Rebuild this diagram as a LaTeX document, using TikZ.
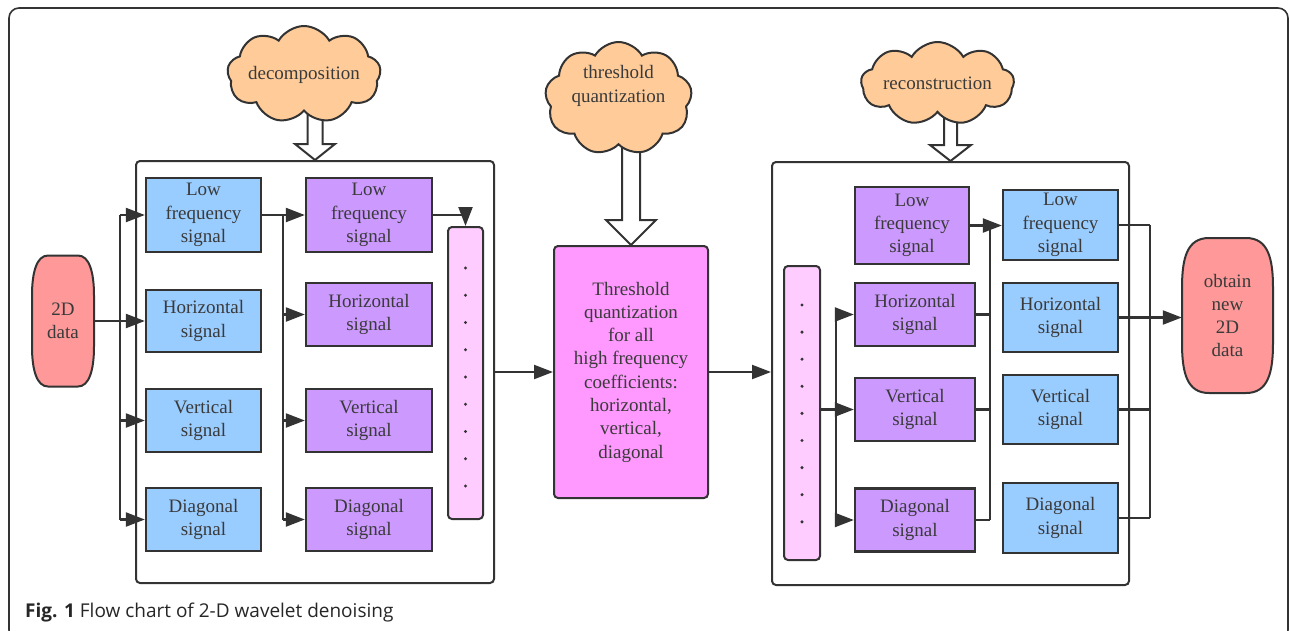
\documentclass[tikz,border=0pt]{standalone}
\usepackage{fontspec}
\setmainfont{Liberation Serif}
\newfontfamily\capfont{Open Sans}
\usetikzlibrary{arrows.meta,shapes.symbols,calc,backgrounds}
\definecolor{ln}{HTML}{333333}
\definecolor{tx}{HTML}{3A3A3A}
\definecolor{blu}{HTML}{99CCFF}
\definecolor{pur}{HTML}{CC99FF}
\definecolor{pdot}{HTML}{FFCCFF}
\definecolor{thrc}{HTML}{FF99FF}
\definecolor{peach}{HTML}{FFCC99}
\definecolor{sal}{HTML}{FF9999}
% capsule-like terminal shape: cx, cy, half width, half height, half flat, curve height
\newcommand\podpath[6]{%
  \filldraw[podst] (#1-#5,#2-#4) -- (#1+#5,#2-#4)
    .. controls (#1+#3-5,#2-#4) and (#1+#3,#2-#4+#6*0.4) .. (#1+#3,#2-#4+#6)
    -- (#1+#3,#2+#4-#6)
    .. controls (#1+#3,#2+#4-#6*0.4) and (#1+#3-5,#2+#4) .. (#1+#5,#2+#4)
    -- (#1-#5,#2+#4)
    .. controls (#1-#3+5,#2+#4) and (#1-#3,#2+#4-#6*0.4) .. (#1-#3,#2+#4-#6)
    -- (#1-#3,#2-#4+#6)
    .. controls (#1-#3,#2-#4+#6*0.4) and (#1-#3+5,#2-#4) .. (#1-#5,#2-#4) -- cycle;}
% hollow block arrow from a cloud to a box: cloud, box, half shaft, half head, head length
\newcommand\hollowarr[5]{%
  \filldraw[hol] let \p1=(#2.north), \p2=(#1.south) in
    (\x1+#3pt,\y2+6pt) -- (\x1+#3pt,\y1+#5pt) -- (\x1+#4pt,\y1+#5pt) -- (\x1,\y1)
    -- (\x1-#4pt,\y1+#5pt) -- (\x1-#3pt,\y1+#5pt) -- (\x1-#3pt,\y2+6pt);}
\begin{document}
\begin{tikzpicture}[x=1pt,y=-1pt,
  txt/.style={text=tx, align=center, font=\fontsize{19}{23.3}\selectfont, inner sep=0pt},
  sig/.style={txt, draw=ln, line width=2.3pt},
  bluebox/.style={sig, fill=blu},
  purbox/.style={sig, fill=pur},
  bigbox/.style={draw=ln, line width=2pt, rounded corners=4pt, inner sep=0pt},
  dotcol/.style={draw=ln, line width=2pt, fill=pdot, rounded corners=4pt, inner sep=0pt},
  thrbox/.style={txt, draw=ln, line width=2pt, fill=thrc, rounded corners=4pt},
  cloudst/.style={cloud, cloud puffs=9, cloud puff arc=120, cloud ignores aspect,
    draw=ln, line width=2pt, fill=peach, inner sep=0pt, txt},
  podst/.style={draw=ln, line width=2pt, fill=sal},
  hol/.style={draw=ln, line width=2pt, fill=white, line join=miter},
  conn/.style={draw=ln, line width=2.2pt},
  arr/.style={conn, -{Triangle[length=19pt,width=14pt]}},
  dotst/.style={fill=ln}
]
\clip (0,0) rectangle (1290,630);
% outer frame
\draw[draw=ln, line width=1.6pt, rounded corners=10pt] (9,8) rectangle (1288,640);

% ---------- left block ----------
\podpath{63}{321}{31}{65.5}{15}{40}
\node[txt, minimum width=62pt, minimum height=131pt] (data) at (63,321) {2D\\data};

\node[bigbox, minimum width=358pt, minimum height=422pt] (bigL) at (315,372) {};

\node[bluebox, minimum width=115pt, minimum height=74pt] (b1) at (203.5,215) {Low\\frequency\\signal};
\node[bluebox, minimum width=115pt, minimum height=62pt] (b2) at (203.5,321) {Horizontal\\signal};
\node[bluebox, minimum width=115pt, minimum height=63pt] (b3) at (203.5,420.5) {Vertical\\signal};
\node[bluebox, minimum width=115pt, minimum height=63pt] (b4) at (203.5,519.5) {Diagonal\\signal};

\node[purbox, minimum width=126pt, minimum height=74pt] (p1) at (369,215) {Low\\frequency\\signal};
\node[purbox, minimum width=126pt, minimum height=63pt] (p2) at (369,314.5) {Horizontal\\signal};
\node[purbox, minimum width=126pt, minimum height=63pt] (p3) at (369,420.5) {Vertical\\signal};
\node[purbox, minimum width=126pt, minimum height=63pt] (p4) at (369,519.5) {Diagonal\\signal};

\node[dotcol, minimum width=35pt, minimum height=292pt] (dotsL) at (465.5,373) {};
\foreach \i in {0,...,8} \fill[dotst] (465.5,268+27.25*\i) circle (1.7pt);

% ---------- centre ----------
\node[thrbox, minimum width=154pt, minimum height=252pt] (thr) at (631,372)
  {Threshold\\quantization\\for all\\high frequency\\coefficients:\\horizontal,\\vertical,\\diagonal};

% ---------- right block ----------
\node[bigbox, minimum width=357pt, minimum height=423pt] (bigR) at (950.5,373.5) {};

\node[dotcol, minimum width=36pt, minimum height=294pt] (dotsR) at (802,413) {};
\foreach \i in {0,...,8} \fill[dotst] (802,305+27.1*\i) circle (1.7pt);

\node[purbox, minimum width=114pt, minimum height=77pt] (q1) at (912,225.5) {Low\\frequency\\signal};
\node[purbox, minimum width=120pt, minimum height=63pt] (q2) at (915,314.5) {Horizontal\\signal};
\node[purbox, minimum width=120pt, minimum height=63pt] (q3) at (915,409.5) {Vertical\\signal};
\node[purbox, minimum width=120pt, minimum height=63pt] (q4) at (915,520) {Diagonal\\signal};

\node[bluebox, minimum width=115pt, minimum height=70pt] (b5) at (1060.5,225) {Low\\frequency\\signal};
\node[bluebox, minimum width=115pt, minimum height=69pt] (b6) at (1060.5,317.5) {Horizontal\\signal};
\node[bluebox, minimum width=115pt, minimum height=69pt] (b7) at (1060.5,409.5) {Vertical\\signal};
\node[bluebox, minimum width=115pt, minimum height=70pt] (b8) at (1060.5,518) {Diagonal\\signal};

\podpath{1227.5}{315.5}{45.5}{77.5}{18.5}{50}
\node[txt, minimum width=91pt, minimum height=155pt] (obtain) at (1227.5,315.5) {obtain\\new\\2D\\data};

% ---------- clouds ----------
\node[cloudst, minimum width=152pt, minimum height=97pt] (cdec) at (304,74.5) {decomposition};
\node[cloudst, minimum width=147pt, minimum height=113pt] (cthr) at (618.5,98.5) {};
\node[txt] (cthrt) at (618.5,86) {threshold\\quantization};
\node[cloudst, minimum width=153pt, minimum height=83pt] (crec) at (937.5,83.5) {reconstruction};

\begin{pgfonlayer}{background}
\hollowarr{cdec}{bigL}{7.5}{20}{16}
\hollowarr{cthr}{thr}{9}{25}{25}
\hollowarr{crec}{bigR}{6.5}{20.5}{16}
\end{pgfonlayer}

% ---------- connectors ----------
\coordinate (bl) at (120,0);
\coordinate (bm) at (283,0);
\coordinate (br) at (836,0);
\coordinate (bq) at (990,0);
\coordinate (bb) at (1150,0);

\draw[conn] (bl |- b1.west) -- (bl |- b4.west);
\draw[arr] (bl |- b1.west) -- (b1.west);
\draw[arr] (data.east) -- (b2.west);
\draw[arr] (bl |- b3.west) -- (b3.west);
\draw[arr] (bl |- b4.west) -- (b4.west);

\draw[conn] (bm |- b1.east) -- (bm |- p4.west);
\draw[arr] (b1.east) -- (p1.west);
\draw[arr] (bm |- p2.west) -- (p2.west);
\draw[arr] (bm |- p3.west) -- (p3.west);
\draw[arr] (bm |- p4.west) -- (p4.west);

\draw[arr] (p1.east) -| (dotsL.north);
\draw[arr] (bigL.east) -- (bigL.east -| thr.west);
\draw[arr] (thr.east) -- (thr.east -| bigR.west);

\draw[conn] (dotsR.east |- q3.west) -- (br |- q3.west);
\draw[conn] (br |- q2.west) -- (br |- q4.west);
\draw[arr] (br |- q2.west) -- (q2.west);
\draw[arr] (br |- q3.west) -- (q3.west);
\draw[arr] (br |- q4.west) -- (q4.west);

\draw[arr] (q1.east) -- (q1.east -| b5.west);
\draw[conn] (bq |- q1.east) -- (bq |- q4.east);
\draw[conn] (q2.east) -- (bq |- q2.east);
\draw[conn] (q3.east) -- (bq |- q3.east);
\draw[conn] (q4.east) -- (bq |- q4.east);

\draw[conn] (b5.east) -- (bb |- b5.east);
\draw[conn] (bb |- b5.east) -- (bb |- b8.east);
\draw[conn] (b7.east) -- (bb |- b7.east);
\draw[conn] (b8.east) -- (bb |- b8.east);
\draw[arr] (b6.east) -- (b6.east -| obtain.west);

% ---------- caption ----------
\node[anchor=base west, inner sep=0pt, text=black!85, font=\capfont\fontsize{19}{22}\selectfont] (cap) at (25,617)
  {\textbf{Fig. 1} Flow chart of 2-D wavelet denoising};
\end{tikzpicture}
\end{document}
